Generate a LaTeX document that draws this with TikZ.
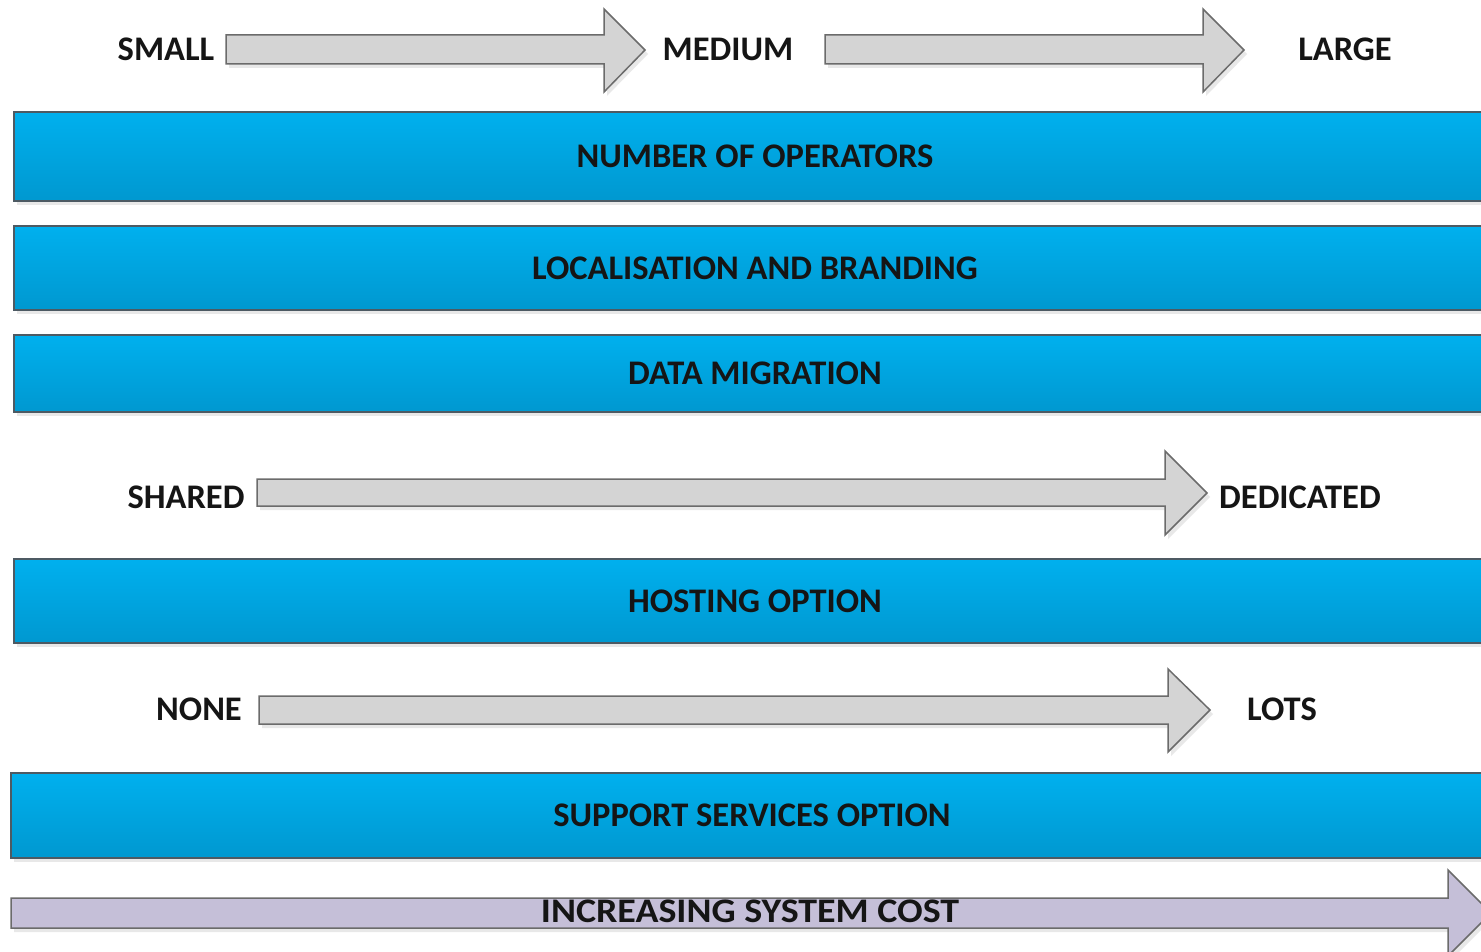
\documentclass[tikz,border=0pt]{standalone}
\usepackage{fontspec}
\setmainfont{Carlito}
\usetikzlibrary{shadows}
\usetikzlibrary{positioning}

\definecolor{barTop}{HTML}{00B0EE}
\definecolor{barBot}{HTML}{0098D0}
\definecolor{barLine}{HTML}{4D5A63}
\definecolor{arrGrey}{HTML}{D4D4D4}
\definecolor{arrLine}{HTML}{6B6B6B}
\definecolor{arrPurple}{HTML}{C5BFD8}
\definecolor{inkText}{HTML}{151515}

\tikzset{
  bar/.style={rectangle, draw=barLine, line width=1.5pt, top color=barTop, bottom color=barBot,
    minimum width=1482pt, inner sep=0pt,
    drop shadow={shadow xshift=3pt, shadow yshift=-4pt, opacity=0.18}},
  lbl/.style={text=inkText, font=\fontsize{34.5}{40}\selectfont\bfseries, inner sep=0pt},
  greyarrow/.style={draw=arrLine, line width=1.5pt, fill=arrGrey, line join=miter,
    drop shadow={shadow xshift=3pt, shadow yshift=-4pt, opacity=0.18}},
  costarrow/.style={draw=arrLine, line width=1.5pt, fill=arrPurple,
    drop shadow={shadow xshift=3pt, shadow yshift=-4pt, opacity=0.18}}
}

\begin{document}
\begin{tikzpicture}[x=1pt,y=-1pt]
  \useasboundingbox (0,0) rectangle (1481,952);
  \clip (0,0) rectangle (1481,952);

  % size scale
  \node[lbl] (small) at (166,49) {SMALL};
  \node[lbl] (medium) at (728,49) {MEDIUM};
  \node[lbl] (large) at (1345,49) {LARGE};
  \path[greyarrow] (226,35) -- (604,35) -- (604,9) -- (645,50) -- (604,92) -- (604,64) -- (226,64) -- cycle;
  \path[greyarrow] (825,35) -- (1203,35) -- (1203,9) -- (1244,50) -- (1203,92) -- (1203,64) -- (825,64) -- cycle;

  \begin{scope}[every node/.style={bar}]
    \node[minimum height=89pt] (operators) at (755,156.5) {};
    \node[minimum height=84pt] (branding) at (755,268) {};
    \node[minimum height=77pt] (migration) at (755,373.5) {};
    \node[minimum height=84pt] (hosting) at (755,601) {};
    \node[minimum height=85pt] (support) at (752,815.5) {};
  \end{scope}
  \node[lbl] at (operators) {NUMBER OF OPERATORS};
  \node[lbl] at (branding) {LOCALISATION AND BRANDING};
  \node[lbl] at (migration) {DATA MIGRATION};
  \node[lbl] at (hosting) {HOSTING OPTION};
  \node[lbl] at (support) {SUPPORT SERVICES OPTION};

  % hosting scale
  \node[lbl] (shared) at (186,497) {SHARED};
  \node[lbl] (dedicated) at (1300,497) {DEDICATED};
  \path[greyarrow] (257,479) -- (1165,479) -- (1165,451) -- (1207,493) -- (1165,535) -- (1165,506) -- (257,506) -- cycle;

  % support scale
  \node[lbl] (none) at (199,709) {NONE};
  \node[lbl] (lots) at (1282,709) {LOTS};
  \path[greyarrow] (259,696) -- (1168,696) -- (1168,669) -- (1210,710) -- (1168,752) -- (1168,724) -- (259,724) -- cycle;

  % cost
  \path[costarrow] (11,898) -- (1448,898) -- (1448,870) -- (1491,913) -- (1448,956) -- (1448,928) -- (11,928) -- cycle;
  \node[lbl, xscale=1.1] (cost) at (750,911.5) {INCREASING SYSTEM COST};
\end{tikzpicture}
\end{document}
